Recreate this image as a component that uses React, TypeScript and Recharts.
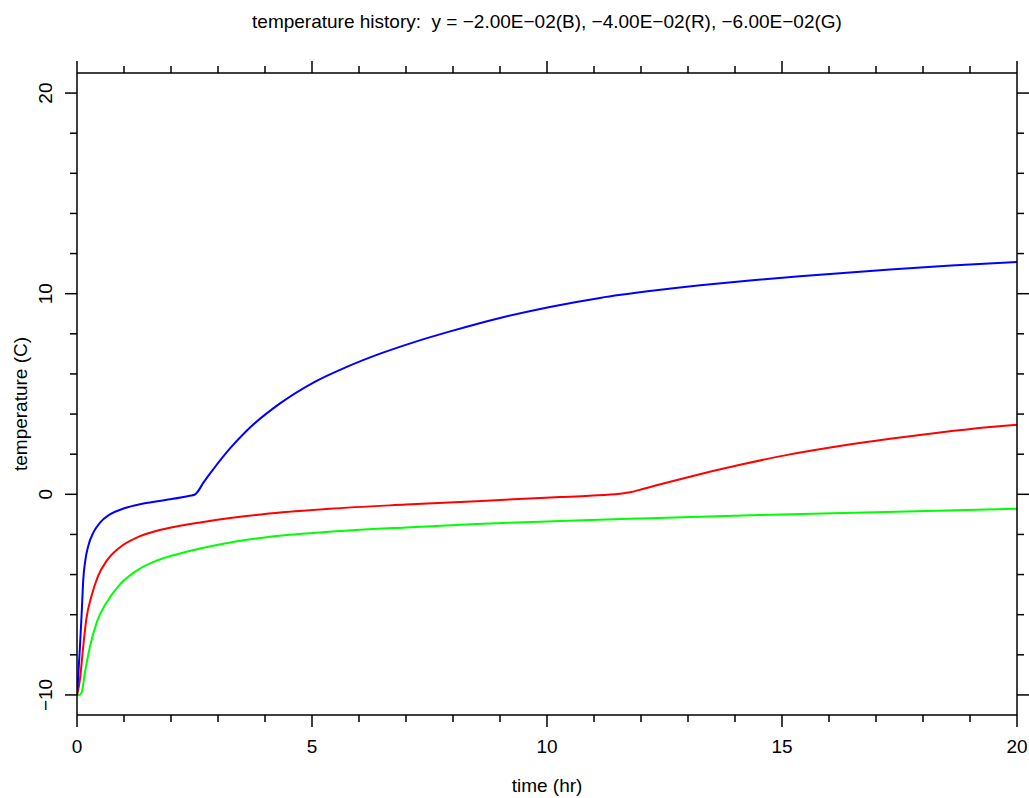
import React from 'react';
import { LineChart, Line, XAxis, YAxis } from 'recharts';

// time (hr) / temperature (C), one pair of arrays per curve
const blueTime = [0, 0.02, 0.04, 0.064, 0.1, 0.134, 0.17, 0.24, 0.35, 0.49, 0.7, 0.99, 1.41, 1.98, 2.4, 2.5, 2.55, 2.69, 2.9, 3.26, 3.61, 4.32, 5.03, 5.74, 6.45, 7.16, 7.94, 9.0, 10.06, 11.13, 12.19, 13.26, 14.32, 15.38, 16.45, 17.3, 18.6, 20];
const blueTemp = [-10, -9.3, -8.5, -7.55, -5.9, -4.23, -3.4, -2.57, -1.9, -1.41, -1.0, -0.71, -0.46, -0.25, -0.07, -0.02, 0.08, 0.58, 1.25, 2.3, 3.17, 4.53, 5.57, 6.35, 7.01, 7.575, 8.12, 8.79, 9.34, 9.79, 10.13, 10.42, 10.66, 10.87, 11.06, 11.2, 11.4, 11.58];

const redTime = [0, 0.03, 0.064, 0.134, 0.2, 0.31, 0.45, 0.63, 0.91, 1.27, 1.7, 2.19, 2.62, 3.26, 3.96, 5.38, 7, 8.5, 10.28, 10.91, 11.55, 11.77, 12.0, 12.33, 13.04, 14.11, 15.17, 16.23, 17.3, 18.36, 19.43, 20];
const redTemp = [-10, -9.7, -9.2, -7.55, -6.2, -5.06, -4.06, -3.32, -2.65, -2.16, -1.82, -1.57, -1.4, -1.18, -0.99, -0.72, -0.51, -0.34, -0.14, -0.07, 0.03, 0.1, 0.24, 0.45, 0.88, 1.47, 1.99, 2.41, 2.77, 3.08, 3.35, 3.47];

const greenTime = [0, 0.05, 0.1, 0.17, 0.28, 0.42, 0.63, 0.91, 1.27, 1.7, 2.19, 2.62, 3.26, 3.96, 5.38, 7, 8.5, 10.28, 12, 14.53, 17, 20];
const greenTemp = [-10, -10, -9.87, -8.87, -7.55, -6.38, -5.39, -4.5, -3.8, -3.3, -2.95, -2.7, -2.4, -2.16, -1.87, -1.65, -1.48, -1.33, -1.2, -1.03, -0.89, -0.72];

const xTicks = [0, 1, 2, 3, 4, 5, 6, 7, 8, 9, 10, 11, 12, 13, 14, 15, 16, 17, 18, 19, 20];
const yTicks = [-10, -8, -6, -4, -2, 0, 2, 4, 6, 8, 10, 12, 14, 16, 18, 20];

const title = 'temperature history:  y = \u22122.00E\u221202(B), \u22124.00E\u221202(R), \u22126.00E\u221202(G)';

const toPoints = (t: number[], v: number[]) => t.map((x, i) => ({ t: x, v: v[i] }));

const blueData = toPoints(blueTime, blueTemp);
const redData = toPoints(redTime, redTemp);
const greenData = toPoints(greenTime, greenTemp);

const FONT = '"Liberation Sans", Arial, Helvetica, sans-serif';
const INK = '#000';
const FS = 19;

// minus sign like the original (U+2212)
const fmt = (v: number) => (v < 0 ? '\u2212' + Math.abs(v) : String(v));

const BottomTick = (props: any) => {
  const { x, y, payload } = props;
  const major = payload.value % 5 === 0;
  return (
    <g>
      <line x1={x} x2={x} y1={y} y2={y + (major ? 12 : 7)} stroke={INK} strokeWidth={1.5} />
      {major && (
        <text x={x} y={y + 38} textAnchor="middle" fontSize={FS} fill={INK}>
          {fmt(payload.value)}
        </text>
      )}
    </g>
  );
};

const TopTick = (props: any) => {
  const { x, y, payload } = props;
  const major = payload.value % 5 === 0;
  return <line x1={x} x2={x} y1={y} y2={y - (major ? 12 : 7)} stroke={INK} strokeWidth={1.5} />;
};

const LeftTick = (props: any) => {
  const { x, y, payload } = props;
  const major = payload.value % 10 === 0;
  const lx = x - 25;
  return (
    <g>
      <line x1={x} x2={x - (major ? 12 : 7)} y1={y} y2={y} stroke={INK} strokeWidth={1.5} />
      {major && (
        <text x={lx} y={y} transform={`rotate(-90, ${lx}, ${y})`} textAnchor="middle" fontSize={FS} fill={INK}>
          {fmt(payload.value)}
        </text>
      )}
    </g>
  );
};

const RightTick = (props: any) => {
  const { x, y, payload } = props;
  const major = payload.value % 10 === 0;
  return <line x1={x} x2={x + (major ? 12 : 7)} y1={y} y2={y} stroke={INK} strokeWidth={1.5} />;
};

const TitleLabel = (props: any) => {
  const { viewBox } = props;
  const cx = viewBox.x + viewBox.width / 2;
  return (
    <text x={cx} y={28} textAnchor="middle" fontSize={FS} fill={INK} style={{ whiteSpace: 'pre' }}>
      {title}
    </text>
  );
};

const YLabel = (props: any) => {
  const { viewBox } = props;
  const cy = viewBox.y + viewBox.height / 2 + 10;
  return (
    <text x={27} y={cy} transform={`rotate(-90, 27, ${cy})`} textAnchor="middle" fontSize={FS} fill={INK}>
      temperature (C)
    </text>
  );
};

export default function App() {
  const axisLine = { stroke: INK, strokeWidth: 1.5 };
  return (
    <div style={{ position: 'absolute', left: 0, top: 0, width: 1029, height: 798, background: '#fff', fontFamily: FONT }}>
      <LineChart width={1029} height={798} margin={{ top: 72, right: 11, bottom: 0, left: 0 }}>
        <XAxis
          dataKey="t"
          type="number"
          domain={[0, 20]}
          ticks={xTicks}
          interval={0}
          height={83}
          tickSize={0}
          tickMargin={0}
          tickLine={false}
          axisLine={axisLine}
          tick={BottomTick}
          allowDataOverflow
          label={{ value: 'time (hr)', position: 'insideBottom', offset: 6, fontSize: FS, fill: INK }}
        />
        <XAxis
          xAxisId="top"
          orientation="top"
          dataKey="t"
          type="number"
          domain={[0, 20]}
          ticks={xTicks}
          interval={0}
          height={1}
          tickSize={0}
          tickMargin={0}
          tickLine={false}
          axisLine={axisLine}
          tick={TopTick}
          allowDataOverflow
          label={<TitleLabel />}
        />
        <YAxis
          type="number"
          domain={[-11, 21]}
          ticks={yTicks}
          interval={0}
          width={77}
          tickSize={0}
          tickMargin={0}
          tickLine={false}
          axisLine={axisLine}
          tick={LeftTick}
          allowDataOverflow
          label={<YLabel />}
        />
        <YAxis
          yAxisId="right"
          orientation="right"
          type="number"
          domain={[-11, 21]}
          ticks={yTicks}
          interval={0}
          width={1}
          tickSize={0}
          tickMargin={0}
          tickLine={false}
          axisLine={axisLine}
          tick={RightTick}
          allowDataOverflow
        />
        <Line data={greenData} dataKey="v" type="monotone" stroke="#00ff00" strokeWidth={2} dot={false} isAnimationActive={false} />
        <Line data={redData} dataKey="v" type="monotone" stroke="#ff0000" strokeWidth={2} dot={false} isAnimationActive={false} />
        <Line data={blueData} dataKey="v" xAxisId="top" yAxisId="right" type="monotone" stroke="#0000ff" strokeWidth={2} dot={false} isAnimationActive={false} />
      </LineChart>
    </div>
  );
}
